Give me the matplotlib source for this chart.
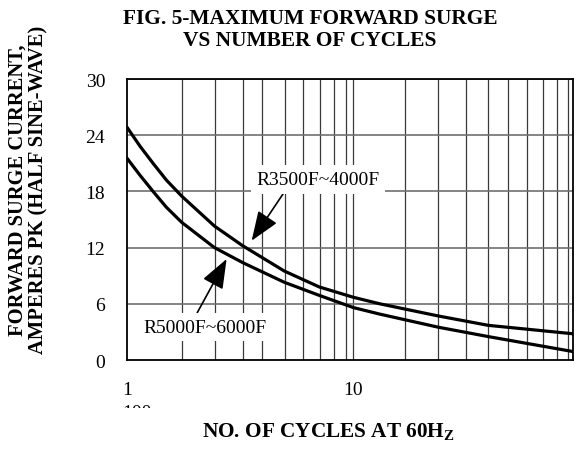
import matplotlib
matplotlib.use("Agg")
from matplotlib import pyplot as plt
from matplotlib.transforms import Bbox

plt.rcParams['font.family'] = ['Liberation Serif', 'DejaVu Serif']
plt.rcParams['mathtext.fontset'] = 'custom'
plt.rcParams['mathtext.rm'] = 'Liberation Serif:bold'

# values
cycles = [1.0, 1.14, 1.30, 1.49, 1.74, 2.43, 3.24, 4.95, 7.07, 10.0, 13.1, 23.8, 39.6, 94.0]
surge_3500 = [24.8, 22.8, 21.0, 19.2, 17.5, 14.3, 12.2, 9.5, 7.8, 6.7, 6.0, 4.7, 3.7, 2.8]
surge_5000 = [21.5, 19.7, 18.0, 16.3, 14.7, 12.0, 10.4, 8.3, 6.9, 5.6, 4.9, 3.5, 2.5, 0.9]

y_ticks = [0, 6, 12, 18, 24, 30]
x_ticks = [1, 10]
x_grid = [1.74, 2.44, 3.24, 3.96, 5.0, 6.0, 7.1, 8.2, 9.25, 10,
          17, 23.7, 31.6, 39.6, 48.5, 58.5, 68.9, 79.4, 89.4]

fig = plt.figure(figsize=(5.74, 4.52), dpi=100)
ax = fig.add_axes([0.2218, 0.2013, 0.9991 - 0.2218, 0.823 - 0.2013])
ax.set_xscale('log')
ax.set_xlim(1, 94.3)
ax.set_ylim(0, 30)

for g in x_grid:
    ax.axvline(g, color='#3a3a3a', lw=0.9, zorder=1)
for t in y_ticks[1:]:
    ax.axhline(t, color='#707070', lw=1.2, zorder=1)

ax.plot(cycles, surge_3500, color='k', lw=2.3, zorder=3)
ax.plot(cycles, surge_5000, color='k', lw=2.3, zorder=3)

ax.set_yticks(y_ticks)
ax.set_yticklabels([str(t) for t in y_ticks])
ax.set_xticks(x_ticks)
ax.set_xticklabels(['1', '10'])
ax.minorticks_off()
ax.tick_params(axis='y', length=0, pad=16, labelsize=14)
ax.tick_params(axis='x', length=0, pad=15, labelsize=14)
for s in ax.spines.values():
    s.set_linewidth(1.3)

arrow = dict(arrowstyle='-|>,head_length=1.3,head_width=0.5', color='k',
             lw=1.2, shrinkA=0, shrinkB=0)
ax.annotate('R3500F~4000F', xy=(3.55, 12.74), xytext=(6.98, 19.3),
            ha='center', va='center', fontsize=14, zorder=5,
            bbox=dict(boxstyle='square,pad=0.3', fc='white', ec='none'),
            arrowprops=dict(arrow, relpos=(0.25, 0)))
ax.annotate('R5000F~6000F', xy=(2.75, 10.78), xytext=(2.21, 3.52),
            ha='center', va='center', fontsize=14, zorder=5,
            bbox=dict(boxstyle='square,pad=0.3', fc='white', ec='none'),
            arrowprops=dict(arrow, relpos=(0.41, 1)))

fig.text(310 / 574, 1 - 30 / 452, 'FIG. 5-MAXIMUM FORWARD SURGE\nVS NUMBER OF CYCLES',
         ha='center', va='center', fontsize=15.4, fontweight='bold', linespacing=1.2)
fig.text(28 / 574, 1 - 190 / 452, 'FORWARD SURGE CURRENT,\nAMPERES PK (HALF SINE-WAVE)',
         ha='center', va='center', rotation=90, fontsize=14.8, fontweight='bold',
         linespacing=1.05)
fig.text(328 / 574, 1 - 432 / 452, r'NO. OF CYCLES AT 60$\mathrm{H_Z}$',
         ha='center', va='center', fontsize=15.3, fontweight='bold')

# the stray, cut-off "100" label under the axis
t = fig.text(137 / 574, 1 - 405 / 452, '100', ha='center', va='top', fontsize=14)
t.set_clip_box(Bbox([[0, 43], [574, 452]]))
t.set_clip_on(True)

fig.savefig('out.png', dpi=100)
